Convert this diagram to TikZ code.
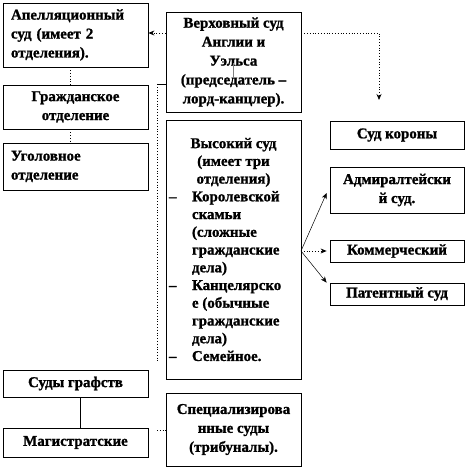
\documentclass[tikz,border=0pt]{standalone}
\usepackage{fontspec}
\setmainfont{Liberation Serif}[BoldFeatures={FakeBold=1.2}]
\usetikzlibrary{arrows.meta,calc}
\tikzset{
  box/.style={draw, line width=0.8bp, inner sep=0pt, align=center,
    font=\fontsize{15}{19}\selectfont\bfseries},
  lbox/.style={box, align=left, inner xsep=8bp, text width=129bp},
  dotline/.style={dotted, line width=0.8bp},
  tip/.style={-{Stealth[length=6bp,width=5bp]}},
}
\begin{document}
\begin{tikzpicture}[x=1bp,y=-1bp]
\useasboundingbox (0,0) rectangle (467,468);
% left column
\node[lbox, minimum height=64bp] (app) at (75.5,35) {Апелляционный\\суд (имеет 2\\отделения).};
\node[box, minimum width=145bp, minimum height=44bp] (civ) at (75.5,107) {Гражданское\\отделение};
\node[lbox, minimum height=47bp] (crim) at (75.5,166.5) {Уголовное\\отделение};
\node[box, minimum width=145bp, minimum height=27bp] (county) at (75.5,383.5) {Суды графств};
\node[box, minimum width=145bp, minimum height=29bp] (mag) at (75.5,442.5) {Магистратские};
% middle column
\node[box, minimum width=135bp, minimum height=100bp] (sup) at (233.5,62) {Верховный суд\\Англии и\\Уэльса\\(председатель –\\лорд-канцлер).};
\node[box, minimum width=135bp, minimum height=259bp, align=left, font=\fontsize{15}{17.8}\selectfont\bfseries] (high) at (233.5,249.5) {%
\makebox[133bp][c]{Высокий суд}\\
\makebox[133bp][c]{(имеет три}\\
\makebox[133bp][c]{отделения)}\\
\makebox[25bp][l]{\hspace{2bp}–}Королевской\\
\hspace*{25bp}скамьи\\
\hspace*{25bp}(сложные\\
\hspace*{25bp}гражданские\\
\hspace*{25bp}дела)\\
\makebox[25bp][l]{\hspace{2bp}–}Канцелярско\\
\hspace*{25bp}е (обычные\\
\hspace*{25bp}гражданские\\
\hspace*{25bp}дела)\\
\makebox[25bp][l]{\hspace{2bp}–}Семейное.};
\node[box, minimum width=135bp, minimum height=73bp] (spec) at (233.5,429.5) {Специализирова\\нные суды\\(трибуналы).};
% right column
\node[box, minimum width=134bp, minimum height=28bp] (crown) at (397,135) {Суд короны};
\node[box, minimum width=134bp, minimum height=46bp] (adm) at (397,190) {Адмиралтейски\\й суд.};
\node[box, minimum width=134bp, minimum height=22bp] (com) at (397,251) {Коммерческий};
\node[box, minimum width=134bp, minimum height=22bp] (pat) at (397,294) {Патентный суд};
% connectors
\coordinate (k) at (379,100);
\coordinate (bt) at (157,84);
\coordinate (bb) at (157,363);
\coordinate (st) at (157,430);
\coordinate (f) at (301,251);
\draw[dotline, tip] (sup.west |- 0,33) -- (app.east |- 0,33);
\draw[dotline, tip] (sup.east |- 0,33) -| (k);
\draw[dotline] ([xshift=-5.5bp]app.south) -- ([xshift=-5.5bp]civ.north);
\draw[dotline] ([xshift=-5.5bp]civ.south) -- ([xshift=-5.5bp]crim.north);
\draw[line width=0.8bp] (sup.west |- bt) -- (bt);
\draw[dotline] (bt) -- (bb);
\draw[gray, line width=1bp] ([yshift=-1bp]sup.center) -- ([yshift=-16bp]sup.center);
\draw[line width=0.8bp] ([xshift=4.5bp]county.south) -- ([xshift=4.5bp]mag.north);
\draw[dotline] (st) -- (spec.west |- st);
\draw[line width=0.5bp, tip] (f) -- ([xshift=-3bp,yshift=-3bp]adm.west);
\draw[dotline, tip] (f) -- ([xshift=-3bp]com.west);
\draw[line width=0.5bp, tip] (f) -- ([xshift=-3bp]pat.north west);
\end{tikzpicture}
\end{document}
